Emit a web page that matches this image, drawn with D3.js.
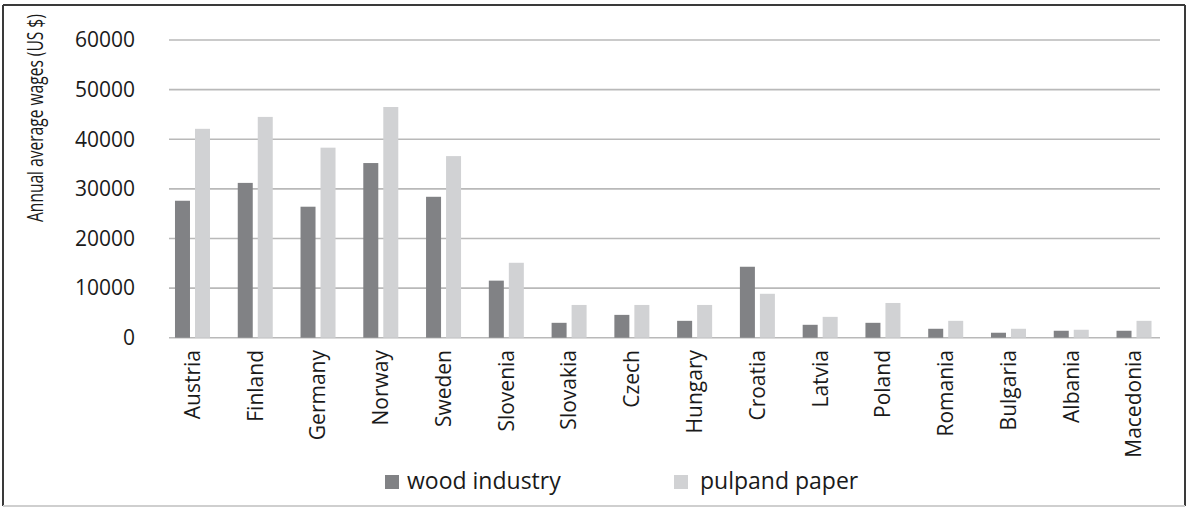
<!DOCTYPE html>
<html>
<head>
<meta charset="utf-8">
<script src="https://d3js.org/d3.v7.min.js"></script>
<style>
body{margin:0;background:#fff;}
text{font-family:"Open Sans",sans-serif;fill:#1a1a1a;}
</style>
</head>
<body>
<svg id="chart" width="1188" height="508"></svg>
<script>
// data
var countries=['Austria','Finland','Germany','Norway','Sweden','Slovenia','Slovakia','Czech','Hungary','Croatia','Latvia','Poland','Romania','Bulgaria','Albania','Macedonia'];
var wood=[27600,31200,26400,35200,28400,11500,3000,4600,3400,14300,2600,3000,1800,1000,1400,1400];
var pulp=[42100,44500,38300,46500,36600,15100,6600,6600,6600,8850,4200,7000,3400,1800,1600,3400];
var seriesNames=['wood industry','pulpand paper'];
var seriesColors=['#818285','#d1d2d4'];
var yTicks=[0,10000,20000,30000,40000,50000,60000];

var svg=d3.select('#chart');

// frame
svg.append('line').attr('x1',3).attr('y1',5).attr('x2',1185).attr('y2',5).attr('stroke','#3a3a3a').attr('stroke-width',2);
svg.append('line').attr('x1',3).attr('y1',5).attr('x2',3).attr('y2',506).attr('stroke','#3a3a3a').attr('stroke-width',2);
svg.append('line').attr('x1',1185).attr('y1',5).attr('x2',1185).attr('y2',506).attr('stroke','#3a3a3a').attr('stroke-width',2);
svg.append('line').attr('x1',3).attr('y1',506).attr('x2',1185).attr('y2',506).attr('stroke','#cfcfcf').attr('stroke-width',2);

var xs=d3.scaleBand().domain(countries).range([161.1,1165.4]);
var xin=d3.scaleBand().domain(seriesNames).range([0,35]).paddingInner(0.25);
var ys=d3.scaleLinear().domain([0,60000]).range([337.7,40]);
var gx0=169,gx1=1160;
var off=(xs.bandwidth()-35)/2;

// gridlines
svg.append('g').selectAll('line').data(yTicks).enter().append('line')
.attr('x1',gx0).attr('x2',gx1)
.attr('y1',function(d){return ys(d);}).attr('y2',function(d){return ys(d);})
.attr('stroke','#b9b9b9').attr('stroke-width',1.6);

// y tick labels
svg.append('g').selectAll('text').data(yTicks).enter().append('text')
.attr('x',135).attr('y',function(d){return ys(d);})
.attr('dy','0.35em').attr('text-anchor','end').style('font-size','21px')
.text(function(d){return d;});

// y title (squeezed to the reference's narrow face)
var yt=svg.append('text').attr('text-anchor','start').style('font-size','22px')
.text('Annual average wages (US $)');
var k=208/yt.node().getComputedTextLength();
yt.attr('transform','translate(43,222) rotate(-90) scale('+k+',1)');

// bars
var rows=countries.map(function(c,i){return {c:c,v:[wood[i],pulp[i]]};});
var groups=svg.append('g').selectAll('g').data(rows).enter().append('g')
.attr('transform',function(d){return 'translate('+(xs(d.c)+off)+',0)';});
groups.selectAll('rect').data(function(d){return d.v.map(function(v,j){return {s:seriesNames[j],v:v,j:j};});})
.enter().append('rect')
.attr('x',function(d){return xin(d.s);})
.attr('width',xin.bandwidth())
.attr('y',function(d){return ys(d.v);})
.attr('height',function(d){return ys(0)-ys(d.v);})
.attr('fill',function(d){return seriesColors[d.j];});

// x labels
svg.append('g').selectAll('text').data(countries).enter().append('text')
.attr('transform',function(d){return 'translate('+(xs(d)+xs.bandwidth()/2)+',350) rotate(-90)';})
.attr('text-anchor','end').attr('dy','0.35em').style('font-size','21px')
.text(function(d){return d;});

// legend
var legX=[385,674];
var leg=svg.append('g').selectAll('g').data(seriesNames).enter().append('g')
.attr('transform',function(d,i){return 'translate('+legX[i]+',475)';});
leg.append('rect').attr('width',14).attr('height',14).attr('fill',function(d,i){return seriesColors[i];});
leg.append('text').attr('x',function(d,i){return i==0?22:26;}).attr('y',14).style('font-size','23px').text(function(d){return d;});
</script>
</body>
</html>
